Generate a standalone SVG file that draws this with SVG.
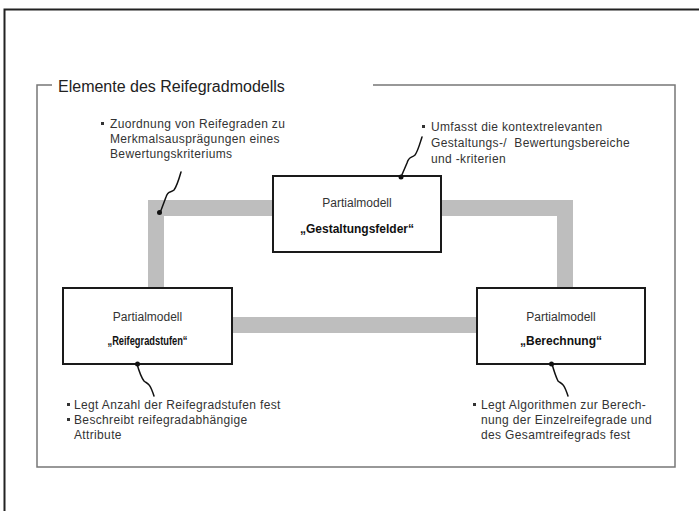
<svg xmlns="http://www.w3.org/2000/svg" width="699" height="511" viewBox="0 0 699 511">
  <style>
    .txt { font-family: "Liberation Sans", Arial, Helvetica, sans-serif; fill: #333; }
    .title { font-size: 16px; fill: #222; }
    .boxlabel { font-size: 12px; text-anchor: middle; }
    .boxname { font-size: 12px; font-weight: bold; text-anchor: middle; fill: #111; }
    .note { font-size: 12px; letter-spacing: 0.35px; }
    .box { fill: #fff; stroke: #1a1a1a; stroke-width: 2; }
    .bar { fill: none; stroke: #bebebe; stroke-width: 16; stroke-linejoin: miter; }
    .leader { fill: none; stroke: #111; stroke-width: 1.5; stroke-linecap: round; }
    .dot { fill: #111; }
    .bullet { fill: #333; }
  </style>

  <!-- page border -->
  <path d="M4.5,511 V9.5 H699" fill="none" stroke="#222" stroke-width="2"/>

  <!-- frame around the model elements -->
  <g id="frame">
    <path d="M52,85 H37 V467 H675 V85 H373" fill="none" stroke="#777" stroke-width="1.5"/>
    <text class="txt title" x="58" y="92">Elemente des Reifegradmodells</text>
  </g>

  <!-- thick grey links between the partial models -->
  <g id="connectors">
    <path class="bar" d="M156,288 V208 H273"/>
    <path class="bar" d="M441,208 H565 V288"/>
    <path class="bar" d="M232,325 H477"/>
  </g>

  <g id="node-gestaltungsfelder">
    <rect class="box" x="273" y="176" width="168" height="76"/>
    <text class="txt boxlabel" x="357" y="207">Partialmodell</text>
    <text class="txt boxname" x="357" y="233">„Gestaltungsfelder“</text>
  </g>

  <g id="node-reifegradstufen">
    <rect class="box" x="63" y="288" width="169" height="76"/>
    <text class="txt boxlabel" x="147.5" y="321">Partialmodell</text>
    <text class="txt boxname" x="147.5" y="345" textLength="80" lengthAdjust="spacingAndGlyphs">„Reifegradstufen“</text>
  </g>

  <g id="node-berechnung">
    <rect class="box" x="477" y="288" width="168" height="76"/>
    <text class="txt boxlabel" x="561" y="321">Partialmodell</text>
    <text class="txt boxname" x="561" y="345">„Berechnung“</text>
  </g>

  <!-- annotation: link semantics -->
  <g id="note-zuordnung">
    <path class="leader" d="M181,172 C179,179 177,186 174,190 C171,193 168,190 166,197 L160,213"/>
    <circle class="dot" cx="159.5" cy="212.5" r="2.5"/>
    <rect class="bullet" x="101" y="122" width="3" height="3"/>
    <text class="txt note" x="110" y="128">Zuordnung von Reifegraden zu</text>
    <text class="txt note" x="110" y="143">Merkmalsausprägungen eines</text>
    <text class="txt note" x="110" y="158">Bewertungskriteriums</text>
  </g>

  <!-- annotation: Gestaltungsfelder -->
  <g id="note-gestaltungsfelder">
    <path class="leader" d="M422,137 C420,143 418,151 415,155 C412,158 409,156 407,163 L401,177"/>
    <circle class="dot" cx="401" cy="177" r="2.5"/>
    <rect class="bullet" x="422" y="125" width="3" height="3"/>
    <text class="txt note" x="431" y="131">Umfasst die kontextrelevanten</text>
    <text class="txt note" x="431" y="147">Gestaltungs-/&#160; Bewertungsbereiche</text>
    <text class="txt note" x="431" y="163">und -kriterien</text>
  </g>

  <!-- annotation: Reifegradstufen -->
  <g id="note-reifegradstufen">
    <path class="leader" d="M137,364 C139,371 141,377 144,381 C147,384 149,381 154,396"/>
    <circle class="dot" cx="137.5" cy="364" r="2.5"/>
    <rect class="bullet" x="67" y="403" width="3" height="3"/>
    <text class="txt note" x="74" y="409">Legt Anzahl der Reifegradstufen fest</text>
    <rect class="bullet" x="67" y="418" width="3" height="3"/>
    <text class="txt note" x="74" y="424">Beschreibt reifegradabhängige</text>
    <text class="txt note" x="74" y="439">Attribute</text>
  </g>

  <!-- annotation: Berechnung -->
  <g id="note-berechnung">
    <path class="leader" d="M552,364 C554,371 556,377 558,381 C561,384 563,381 568,396"/>
    <circle class="dot" cx="551.5" cy="364" r="2.5"/>
    <rect class="bullet" x="473" y="403" width="3" height="3"/>
    <text class="txt note" x="481" y="409">Legt Algorithmen zur Berech-</text>
    <text class="txt note" x="481" y="424">nung der Einzelreifegrade und</text>
    <text class="txt note" x="481" y="439">des Gesamtreifegrads fest</text>
  </g>
</svg>
